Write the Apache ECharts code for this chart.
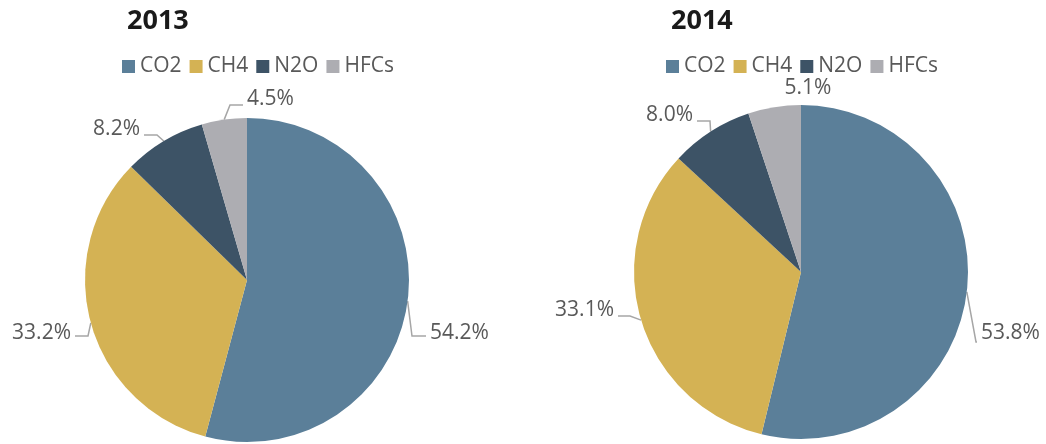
<!DOCTYPE html>
<html>
<head>
<meta charset="utf-8">
<script src="https://cdn.jsdelivr.net/npm/echarts@6/dist/echarts.min.js"></script>
<style>
html, body { margin: 0; padding: 0; background: #fff; }
#main { width: 1046px; height: 444px; }
</style>
</head>
<body>
<div id="main"></div>
<script>
// 数据
var gases = ['CO2', 'CH4', 'N2O', 'HFCs'];
var years = ['2013', '2014'];
var share2013 = [54.2, 33.2, 8.2, 4.5];
var share2014 = [53.8, 33.1, 8.0, 5.1];
var colors = ['#5b7f99', '#d4b254', '#3d5366', '#adadb2'];

// 标签位置（仿Excel引导线）: [文字x, 文字y, 对齐, 拐点x, 拐点y, 终点x, 终点y]
var labelPos = [
    [
        [430, 333, 'left', 412, 336, 426, 336],
        [71, 333, 'right', 88, 336, 75, 336],
        [140, 129, 'right', 157, 135, 144, 135],
        [247, 99, 'left', 230, 105, 243, 105]
    ],
    [
        [981, 333, 'left', 976, 342, 977, 342],
        [614, 310, 'right', 630, 316, 618, 316],
        [693, 115, 'right', 710, 121, 697, 121],
        [808, 88, 'center', null, null, null, null]
    ]
];

var myChart = echarts.init(document.getElementById('main'));

function toData(arr) {
    var out = [];
    for (let i = 0; i < gases.length; i++) {
        out.push({ name: gases[i], value: arr[i] });
    }
    return out;
}

var labelStyle = {
    show: true,
    formatter: function (p) { return p.value.toFixed(1) + '%'; },
    color: '#595959',
    fontSize: 21,
    fontFamily: 'Open Sans',
    overflow: 'none'
};

function makeLayout(si) {
    return function (params) {
        var lp = labelPos[si][params.dataIndex];
        var p0 = params.labelLinePoints ? params.labelLinePoints[0] : null;
        var res = { x: lp[0], y: lp[1], align: lp[2], verticalAlign: 'middle' };
        if (lp[3] === null || !p0) {
            res.labelLinePoints = p0 ? [p0, p0, p0] : undefined;
        } else {
            res.labelLinePoints = [p0, [lp[3], lp[4]], [lp[5], lp[6]]];
        }
        return res;
    };
}

var titleStyle = { fontSize: 27, fontWeight: 'bold', color: '#1a1a1a', fontFamily: 'Open Sans' };
var legendText = { fontSize: 21, color: '#595959', fontFamily: 'Open Sans' };

var option = {
    color: colors,
    title: [
        { text: years[0], left: 122, top: 3, textStyle: titleStyle },
        { text: years[1], left: 666, top: 3, textStyle: titleStyle }
    ],
    legend: [
        { data: gases, left: 117, top: 51, itemWidth: 13, itemHeight: 13, itemGap: 8, icon: 'rect', textStyle: legendText },
        { data: gases, left: 661, top: 51, itemWidth: 13, itemHeight: 13, itemGap: 8, icon: 'rect', textStyle: legendText }
    ],
    series: [
        {
            name: years[0],
            type: 'pie',
            center: [247, 280],
            radius: 162,
            startAngle: 90,
            clockwise: true,
            animation: false,
            label: labelStyle,
            labelLine: { show: true, length: 10, length2: 10, lineStyle: { color: '#a6a6a6', width: 1.5 } },
            labelLayout: makeLayout(0),
            emphasis: { disabled: true },
            data: toData(share2013)
        },
        {
            name: years[1],
            type: 'pie',
            center: [801, 272],
            radius: 167,
            startAngle: 90,
            clockwise: true,
            animation: false,
            label: labelStyle,
            labelLine: { show: true, length: 10, length2: 10, lineStyle: { color: '#a6a6a6', width: 1.5 } },
            labelLayout: makeLayout(1),
            emphasis: { disabled: true },
            data: toData(share2014)
        }
    ]
};
myChart.setOption(option);
</script>
</body>
</html>
